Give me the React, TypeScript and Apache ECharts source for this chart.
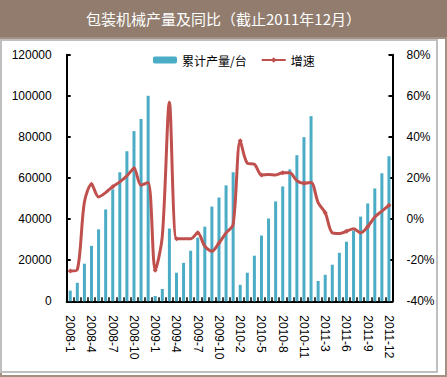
import React, { useEffect, useRef } from "react";
import * as echarts from "echarts";

const categories = [
  "2008-1", "2008-2", "2008-3", "2008-4", "2008-5", "2008-6", "2008-7", "2008-8", "2008-9", "2008-10", "2008-11", "2008-12",
  "2009-1", "2009-2", "2009-3", "2009-4", "2009-5", "2009-6", "2009-7", "2009-8", "2009-9", "2009-10", "2009-11", "2009-12",
  "2010-2", "2010-3", "2010-4", "2010-5", "2010-6", "2010-7", "2010-8", "2010-9", "2010-10", "2010-11", "2010-12",
  "2011-2", "2011-3", "2011-4", "2011-5", "2011-6", "2011-7", "2011-8", "2011-9", "2011-10", "2011-11", "2011-12",
];

const output = [
  5200, 9000, 18300, 27000, 35000, 44700, 54500, 62800, 73000, 82800, 88700, 100000,
  2600, 6000, 35400, 13900, 18700, 24600, 31000, 36300, 46100, 50500, 56400, 62800,
  8000, 13900, 22200, 32000, 40300, 48600, 55900, 64200, 71100, 79900, 90100,
  9900, 12900, 17800, 23600, 29000, 34400, 41200, 47600, 54900, 62300, 70600,
];

const growth = [
  -25.3, -24.6, 8.3, 17.0, 10.8, 12.9, 15.8, 18.1, 21.0, 24.6, 16.5, 17.8,
  -24.9, -8.3, 56.9, -9.6, -9.6, -9.6, -6.7, -13.2, -15.6, -11.6, -6.7, -2.6,
  38.1, 27.2, 26.7, 21.5, 21.7, 21.5, 22.5, 22.5, 18.7, 17.4, 17.8,
  8.0, 3.1, -6.7, -7.0, -5.9, -4.7, -6.7, -3.7, 1.0, 3.9, 6.7,
];

const title = "包装机械产量及同比（截止2011年12月）";
const barName = "累计产量/台";
const lineName = "增速";

export default function App() {
  const ref = useRef<HTMLDivElement>(null);
  useEffect(() => {
    if (!ref.current) return;
    const chart = echarts.init(ref.current, null, { renderer: "svg" });
    const font = "'Liberation Sans', Arial, sans-serif";
    chart.setOption({
      animation: false,
      backgroundColor: "#ffffff",
      textStyle: { fontFamily: font },
      graphic: [
        { type: "rect", z: -10, shape: { x: 0, y: 0, width: 447, height: 38 }, style: { fill: "#917C6E" } },
        { type: "rect", z: -10, shape: { x: 1, y: 38, width: 445, height: 338 }, style: { fill: "none", stroke: "#A39283", lineWidth: 2 } },
        { type: "rect", z: -10, shape: { x: 1, y: 40, width: 436, height: 332 }, style: { fill: "none", stroke: "#BFBFBF", lineWidth: 2 } },
        {
          type: "text",
          left: "center",
          top: 11,
          style: { text: title, fill: "#ffffff", fontSize: 15, fontFamily: "'Noto Sans CJK SC', sans-serif" },
        },
      ],
      legend: {
        left: 148,
        top: 49,
        itemWidth: 24,
        itemHeight: 7,
        itemGap: 14,
        textStyle: { fontSize: 12, color: "#000", fontFamily: "'Noto Sans CJK SC', sans-serif" },
        data: [barName, lineName],
      },
      grid: { left: 66.7, right: 54.5, top: 54.7, bottom: 75.7 },
      xAxis: {
        type: "category",
        data: categories,
        boundaryGap: true,
        axisLine: { lineStyle: { color: "#000", width: 2 } },
        axisTick: { show: true, inside: true, length: 4, interval: 0, alignWithLabel: false, lineStyle: { color: "#000", width: 1.5 } },
        axisLabel: { interval: 2, rotate: -90, margin: 14, fontSize: 12, color: "#000", fontFamily: font },
      },
      yAxis: [
        {
          type: "value",
          min: 0,
          max: 120000,
          interval: 20000,
          axisLine: { show: true, lineStyle: { color: "#000", width: 2 } },
          axisTick: { show: true, inside: true, length: 4, lineStyle: { color: "#000", width: 2 } },
          axisLabel: { margin: 15, fontSize: 12, color: "#000", fontFamily: font, formatter: (v: number) => String(v) },
          splitLine: { show: false },
        },
        {
          type: "value",
          min: -40,
          max: 80,
          interval: 20,
          position: "right",
          axisLine: { show: true, lineStyle: { color: "#000", width: 2 } },
          axisTick: { show: true, inside: true, length: 4, lineStyle: { color: "#000", width: 2 } },
          axisLabel: { margin: 14, fontSize: 12, color: "#000", fontFamily: font, formatter: (v: number) => v + "%" },
          splitLine: { show: false },
        },
      ],
      series: [
        {
          name: barName,
          type: "bar",
          data: output,
          barWidth: 3,
          itemStyle: { color: "#4BACC6" },
          yAxisIndex: 0,
        },
        {
          name: lineName,
          type: "line",
          data: growth,
          yAxisIndex: 1,
          smooth: 0.3,
          symbol: "diamond",
          symbolSize: 5,
          showSymbol: true,
          lineStyle: { color: "#C0504D", width: 3 },
          itemStyle: { color: "#C0504D" },
          z: 3,
        },
      ],
    });
    return () => chart.dispose();
  }, []);
  return (
    <div
      ref={ref}
      style={{ position: "absolute", left: 0, top: 0, width: 447, height: 377 }}
    />
  );
}
